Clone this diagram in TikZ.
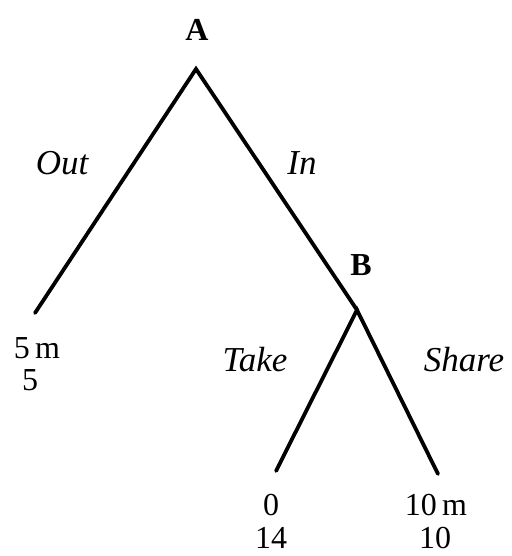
\documentclass[tikz,border=0pt]{standalone}
\usepackage{fontspec}
\setmainfont{Liberation Serif}
\begin{document}
\begin{tikzpicture}[x=1pt,y=1pt,
  edge/.style={line width=3.8pt, line cap=round, line join=miter},
  num/.style={font=\fontsize{32}{34}\selectfont, inner sep=0pt},
  lab/.style={font=\fontsize{35}{37}\selectfont\itshape, inner sep=0pt},
  player/.style={font=\fontsize{32}{34}\selectfont\bfseries, inner sep=0pt}]
\useasboundingbox (0,0) rectangle (511,556);
\fill[white] (0,0) rectangle (511,556);
\coordinate (a) at (196,487);
\coordinate (l) at (35,243);
\coordinate (b) at (357,246);
\coordinate (tl) at (276,85);
\coordinate (tr) at (438,82);
\draw[edge] (l) -- (a) -- (b);
\draw[edge] (tl) -- (b) -- (tr);
\node[player] (la) at (197,526) {A};
\node[player] (lb) at (361,291) {B};
\node[lab] (out) at (62,393) {Out};
\node[lab] (in) at (302,393) {In};
\node[lab] (take) at (255,196) {Take};
\node[lab] (share) at (464,196) {Share};
\node[num] (p1) at (37,208) {5\,m};
\node[num] (p2) at (30,176) {5};
\node[num] (q1) at (271,51) {0};
\node[num] (q2) at (271,18) {14};
\node[num] (r1) at (436,51) {10\,m};
\node[num] (r2) at (435,18) {10};
\end{tikzpicture}
\end{document}
